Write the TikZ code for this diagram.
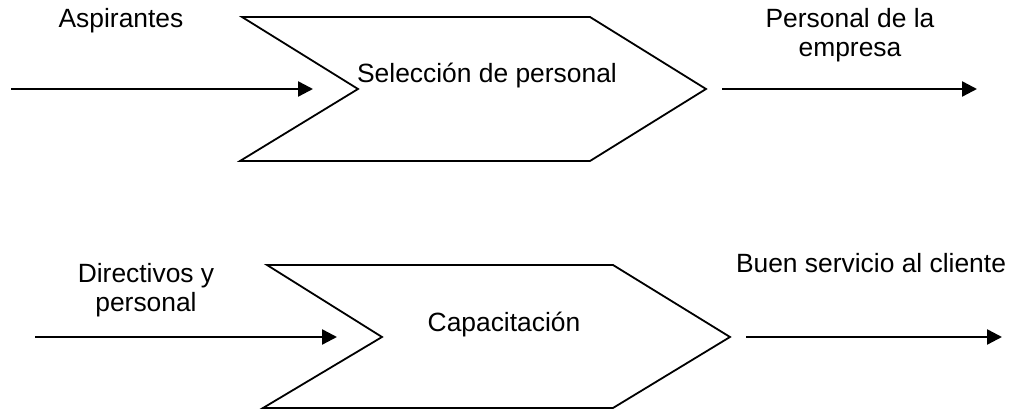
\documentclass[tikz,border=0pt]{standalone}
\usepackage{fontspec}
\setmainfont{Liberation Sans}
\usetikzlibrary{arrows.meta}

\begin{document}
\begin{tikzpicture}[x=0.5pt,y=-0.5pt,
    flecha/.style={line width=1.2pt,-{Triangle[length=7.5pt,width=7.5pt]}},
    proceso/.style={line width=0.9pt,line join=miter},
    etiqueta/.style={font=\fontsize{13.2}{14.7}\selectfont,align=center,inner sep=0pt,anchor=base}]
  \useasboundingbox (0,0) rectangle (1018,410);
  % seleccion de personal
  \draw[proceso] (242,17) -- (590,17) -- (706,89) -- (590,161) -- (240,161) -- (358,89) -- cycle;
  \node[etiqueta] (seleccion) at (487,83) {Selección de personal};
  \coordinate (aspIni) at (11,89);
  \coordinate (aspFin) at (313,89);
  \coordinate (perIni) at (722,89);
  \coordinate (perFin) at (977,89);
  \draw[flecha] (aspIni) -- (aspFin);
  \draw[flecha] (perIni) -- (perFin);
  \node[etiqueta] (aspirantes) at (121,28) {Aspirantes};
  % base = last line
  \node[etiqueta] (personal) at (850,57) {Personal de la\\empresa};
  % capacitacion
  \draw[proceso] (267,265) -- (613,265) -- (730,337) -- (613,408) -- (263,408) -- (382,337) -- cycle;
  \node[etiqueta] (capacitacion) at (504,332) {Capacitación};
  \coordinate (dirIni) at (35,337);
  \coordinate (dirFin) at (337,337);
  \coordinate (bueIni) at (746,337);
  \coordinate (bueFin) at (1002,337);
  \draw[flecha] (dirIni) -- (dirFin);
  \draw[flecha] (bueIni) -- (bueFin);
  \node[etiqueta] (directivos) at (146,312) {Directivos y\\personal};
  \node[etiqueta] (servicio) at (871,273) {Buen servicio al cliente};
\end{tikzpicture}
\end{document}
